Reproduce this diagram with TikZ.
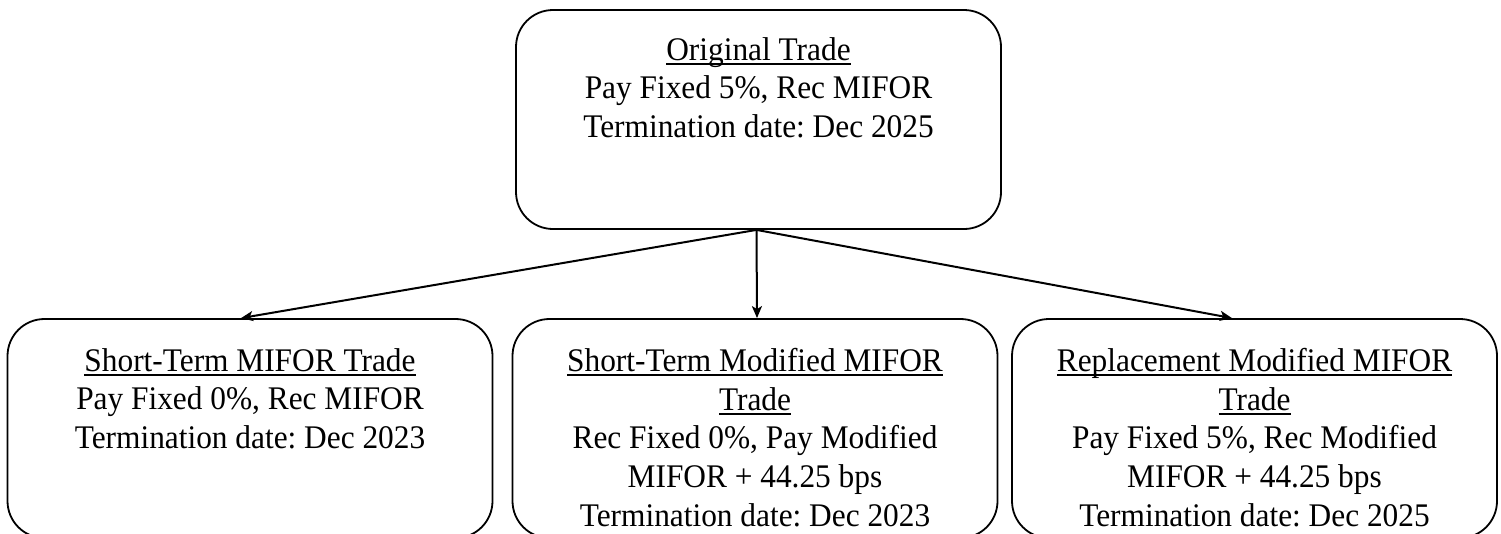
\documentclass[tikz,border=0pt]{standalone}
\usepackage{fontspec}
\setmainfont[FakeStretch=0.95]{Liberation Serif}
\usetikzlibrary{arrows.meta}
\frenchspacing
\newcommand\ulx[1]{\leavevmode\setbox0\hbox{#1}\rlap{\rule[-4.5pt]{\wd0}{1.5pt}}\box0}
\begin{document}
\begin{tikzpicture}[x=1pt,y=-1pt,
  box/.style={draw, line width=1.8pt, rounded corners=37pt, minimum width=485pt, minimum height=219pt, inner sep=0pt},
  txt/.style={anchor=north, align=center, inner sep=0pt, font=\fontsize{33}{38.7}\selectfont},
  link/.style={line width=2pt, -{Stealth[length=12pt,width=10pt,inset=3pt]}}]
\useasboundingbox (0,0) rectangle (1501,533);
\node[box] (top) at (758.5,119.5) {};
\node[box] (left) at (250,428.5) {};
\node[box] (mid) at (755,428.5) {};
\node[box] (right) at (1254.5,428.5) {};
\node[txt] (ttop) at (758.5,37) {\ulx{Original Trade}\\Pay Fixed 5\%, Rec MIFOR\\Termination date: Dec 2025};
\node[txt] (tleft) at (250,348) {\ulx{Short-Term MIFOR Trade}\\Pay Fixed 0\%, Rec MIFOR\\Termination date: Dec 2023};
\node[txt] (tmid) at (755,348) {\ulx{Short-Term Modified MIFOR}\\\ulx{Trade}\\Rec Fixed 0\%, Pay Modified\\MIFOR + 44.25 bps\\Termination date: Dec 2023};
\node[txt] (tright) at (1254.5,348) {\ulx{Replacement Modified MIFOR}\\\ulx{Trade}\\Pay Fixed 5\%, Rec Modified\\MIFOR + 44.25 bps\\Termination date: Dec 2025};
\draw[link] ([xshift=-2pt]top.south) -- ([xshift=-9pt]left.north);
\draw[link] ([xshift=-2pt]top.south) -- ([xshift=2pt]mid.north);
\draw[link] ([xshift=-2pt]top.south) -- ([xshift=-22.5pt]right.north);
\end{tikzpicture}
\end{document}
